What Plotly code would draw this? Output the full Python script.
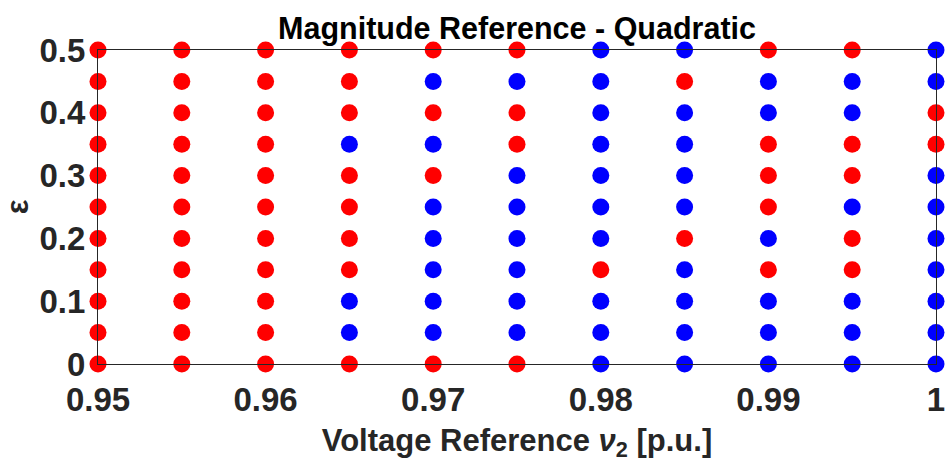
import plotly.graph_objects as go

# Data
v_ref = [0.95, 0.955, 0.96, 0.965, 0.97, 0.975, 0.98, 0.985, 0.99, 0.995, 1.0]
eps = [0, 0.05, 0.1, 0.15, 0.2, 0.25, 0.3, 0.35, 0.4, 0.45, 0.5]
# status per v_ref column, listed from eps=0 up to eps=0.5 ('R' red, 'B' blue)
status = [
    "RRRRRRRRRRR",  # 0.95
    "RRRRRRRRRRR",  # 0.955
    "RRRRRRRRRRR",  # 0.96
    "RBBRRRRBRRR",  # 0.965
    "RBBBBBRBRBR",  # 0.97
    "RBBBBBBRRBR",  # 0.975
    "BBBRBBBBBBB",  # 0.98
    "BBBBRBBBBRB",  # 0.985
    "BBBRBRRRBBR",  # 0.99
    "BBBRRBRRBBR",  # 0.995
    "BBBBBBBRRBB",  # 1.0
]
x_ticks = [0.95, 0.96, 0.97, 0.98, 0.99, 1.0]
x_tick_text = ["0.95", "0.96", "0.97", "0.98", "0.99", "1"]
y_ticks = [0, 0.1, 0.2, 0.3, 0.4, 0.5]
y_tick_text = ["0", "0.1", "0.2", "0.3", "0.4", "0.5"]

rx, ry, bx, by = [], [], [], []
for i, v in enumerate(v_ref):
    for j, e in enumerate(eps):
        if status[i][j] == "R":
            rx.append(v); ry.append(e)
        else:
            bx.append(v); by.append(e)

fig = go.Figure()
fig.add_trace(go.Scatter(x=rx, y=ry, mode="markers", cliponaxis=False,
                         marker=dict(color="#ff0000", size=17, line=dict(width=0)),
                         showlegend=False))
fig.add_trace(go.Scatter(x=bx, y=by, mode="markers", cliponaxis=False,
                         marker=dict(color="#0000ff", size=17, line=dict(width=0)),
                         showlegend=False))

FONT = "Liberation Sans, Arial, sans-serif"
fig.update_layout(
    width=947, height=464,
    margin=dict(l=98, r=11, t=50, b=100, autoexpand=False),
    paper_bgcolor="white", plot_bgcolor="white",
    title=dict(text="Magnitude Reference - Quadratic", x=0.546, xanchor="center",
               y=1 - 28 / 464, yanchor="middle", yref="container",
               font=dict(family=FONT, size=30.5, color="black", weight="bold")),
    xaxis=dict(range=[0.95, 1.0], tickvals=x_ticks, ticktext=x_tick_text,
               showgrid=False, zeroline=False, showline=True, mirror=True,
               linecolor="#262626", linewidth=1, ticks="", ticklabelstandoff=6,
               automargin=False,
               tickfont=dict(family=FONT, size=33, color="#262626", weight="bold"),
               title=dict(text="Voltage Reference <i>ν</i><sub>2</sub> [p.u.]", standoff=12,
                          font=dict(family=FONT, size=31, color="#262626", weight="bold"))),
    yaxis=dict(range=[0, 0.5], tickvals=y_ticks, ticktext=y_tick_text,
               showgrid=False, zeroline=False, showline=True, mirror=True,
               linecolor="#262626", linewidth=1, ticks="", ticklabelstandoff=5,
               automargin=False,
               tickfont=dict(family=FONT, size=33, color="#262626", weight="bold"),
               title=dict(text="ε", standoff=12,
                          font=dict(family=FONT, size=31, color="#262626", weight="bold"))),
)

fig.write_html("out.html")
